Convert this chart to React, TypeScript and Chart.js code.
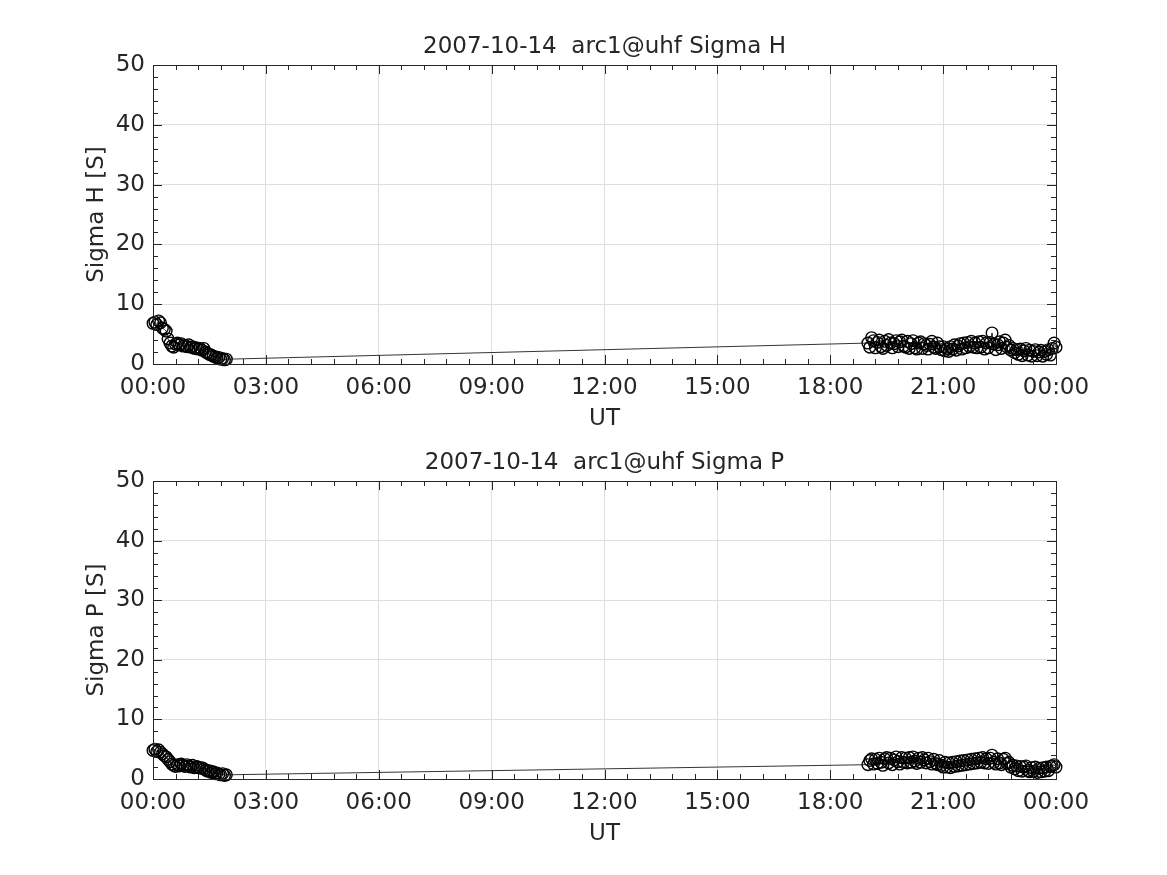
import React, { useEffect, useRef } from "react";
import { Chart, registerables } from "chart.js";

Chart.register(...registerables);

// Sample times in minutes after 00:00 UT
const timesMin = [
  0, 3, 6, 9, 12, 15, 18, 21, 24, 27, 30, 33, 36, 39, 42, 45, 48, 51, 54, 57,
  60, 63, 66, 69, 72, 75, 78, 81, 84, 87, 90, 93, 96, 99, 102, 105, 108, 111, 114, 117,
  1140, 1143, 1146, 1149, 1152, 1155, 1158, 1161, 1164, 1167, 1170, 1173, 1176, 1179, 1182, 1185, 1188, 1191, 1194, 1197,
  1200, 1203, 1206, 1209, 1212, 1215, 1218, 1221, 1224, 1227, 1230, 1233, 1236, 1239, 1242, 1245, 1248, 1251, 1254, 1257,
  1260, 1263, 1266, 1269, 1272, 1275, 1278, 1281, 1284, 1287, 1290, 1293, 1296, 1299, 1302, 1305, 1308, 1311, 1314, 1317,
  1320, 1323, 1326, 1329, 1332, 1335, 1338, 1341, 1344, 1347, 1350, 1353, 1356, 1359, 1362, 1365, 1368, 1371, 1374, 1377,
  1380, 1383, 1386, 1389, 1392, 1395, 1398, 1401, 1404, 1407, 1410, 1413, 1416, 1419, 1422, 1425, 1428, 1431, 1434, 1437,
  1440,
];

const sigmaH = [
  6.8, 7.0, 6.6, 7.2, 6.9, 6.0, 5.8, 5.5, 4.2, 3.5, 3.0, 2.8, 3.3, 3.5, 3.2, 3.4, 3.0, 3.1, 2.9, 3.2,
  2.8, 2.9, 2.6, 2.7, 2.5, 2.6, 2.3, 2.6, 2.0, 1.8, 1.6, 1.5, 1.3, 1.2, 1.0, 1.1, 0.8, 0.9, 0.7, 0.8,
  3.5, 2.8, 4.4, 3.9, 2.7, 3.6, 4.0, 2.9, 2.6, 3.8, 3.1, 4.1, 3.5, 2.7, 3.4, 3.9, 2.9, 3.7, 4.0, 3.0,
  2.8, 3.8, 2.6, 3.4, 3.9, 2.7, 2.5, 3.5, 3.7, 2.6, 3.4, 3.1, 2.5, 3.3, 3.8, 2.8, 2.6, 3.5, 2.9, 2.4,
  2.9, 2.2, 2.6, 2.1, 2.9, 2.5, 3.2, 2.3, 3.0, 3.4, 2.5, 3.5, 2.7, 3.6, 2.9, 3.8, 2.8, 3.5, 2.7, 3.7,
  2.8, 3.8, 2.5, 3.5, 2.7, 3.6, 5.2, 3.3, 2.4, 3.2, 3.7, 2.6, 3.5, 4.0, 2.8, 3.1, 2.3, 2.6, 1.9, 2.4,
  1.6, 2.5, 1.4, 2.2, 2.6, 1.5, 2.3, 1.3, 2.1, 2.4, 1.4, 2.0, 2.3, 1.3, 2.1, 1.6, 2.4, 1.5, 2.6, 3.5,
  2.8,
];

const sigmaP = [
  4.8, 5.0, 4.6, 4.9, 4.5, 4.2, 3.9, 3.7, 3.3, 2.9, 2.5, 2.3, 2.1, 2.4, 2.2, 2.5, 2.3, 2.1, 2.4, 2.2,
  2.0, 2.3, 1.9, 2.1, 2.0, 1.8, 1.9, 1.7, 1.5, 1.3, 1.4, 1.1, 1.2, 0.9, 1.0, 0.8, 0.7, 0.9, 0.6, 0.7,
  2.4, 3.1, 3.4, 2.5, 3.3, 2.6, 3.5, 2.8, 2.3, 3.4, 3.6, 2.7, 3.5, 2.4, 3.2, 3.7, 2.9, 2.5, 3.6, 2.8,
  3.5, 2.7, 3.6, 2.8, 3.7, 3.0, 2.6, 3.5, 2.8, 3.6, 3.2, 2.7, 3.5, 2.9, 2.5, 3.3, 2.6, 2.4, 3.1, 2.3,
  2.0, 2.8, 2.0, 2.7, 1.9, 2.8, 2.1, 2.9, 2.2, 3.0, 2.3, 3.1, 2.4, 3.2, 2.5, 3.3, 2.6, 3.4, 2.7, 3.5,
  2.8, 3.6, 2.7, 3.4, 2.6, 3.5, 4.0, 2.8, 2.5, 3.4, 2.7, 2.4, 3.3, 3.5, 2.6, 2.8, 2.0, 2.3, 1.7, 2.2,
  1.4, 2.1, 1.3, 2.0, 2.2, 1.4, 1.2, 1.9, 1.3, 2.0, 1.1, 1.8, 1.2, 1.9, 1.3, 2.0, 1.4, 2.1, 2.2, 2.4,
  2.0,
];

const xTickHours = [0, 3, 6, 9, 12, 15, 18, 21, 24];
const xTickLabels = ["00:00", "03:00", "06:00", "09:00", "12:00", "15:00", "18:00", "21:00", "00:00"];
const yTicks = [0, 10, 20, 30, 40, 50];

const FONT = "'DejaVu Sans', sans-serif";
const FS = 23;
const TXT = "#262626";

type PanelProps = {
  top: number;
  height: number;
  padTop: number;
  padBottom: number;
  title: string;
  yLabel: string;
  values: number[];
};

const frame = {
  id: "matlabFrame",
  afterDraw(chart: any, _a: any, opts: any) {
    const { ctx, chartArea, scales } = chart;
    const { left, right, top, bottom } = chartArea;
    const xs = scales.x;
    const ys = scales.y;
    ctx.save();
    ctx.strokeStyle = TXT;
    ctx.lineWidth = 1;
    ctx.strokeRect(Math.round(left) + 0.5, Math.round(top) + 0.5, Math.round(right - left), Math.round(bottom - top));
    const majL = 9;
    const minL = 5;
    ctx.beginPath();
    for (let k = 0; k <= 40; k++) {
      const h = k * 0.6;
      const isMajor = k % 5 === 0;
      const px = Math.round(xs.getPixelForValue(h)) + 0.5;
      const L = isMajor ? majL : minL;
      ctx.moveTo(px, bottom);
      ctx.lineTo(px, bottom - L);
      ctx.moveTo(px, top);
      ctx.lineTo(px, top + L);
    }
    for (let k = 0; k <= 25; k++) {
      const v = k * 2;
      const isMajor = k % 5 === 0;
      const py = Math.round(ys.getPixelForValue(v)) + 0.5;
      const L = isMajor ? majL : minL;
      ctx.moveTo(left, py);
      ctx.lineTo(left + L, py);
      ctx.moveTo(right, py);
      ctx.lineTo(right - L, py);
    }
    ctx.stroke();
    ctx.fillStyle = TXT;
    ctx.font = `${FS}px ${FONT}`;
    ctx.textAlign = "center";
    ctx.textBaseline = "middle";
    ctx.fillText(opts.title, (left + right) / 2, top - 18);
    ctx.fillText("UT", (left + right) / 2, bottom + 55);
    ctx.save();
    ctx.translate(left - 56, (top + bottom) / 2);
    ctx.rotate(-Math.PI / 2);
    ctx.fillText(opts.yLabel, 0, 0);
    ctx.restore();
    ctx.restore();
  },
};

function Panel({ top, height, padTop, padBottom, title, yLabel, values }: PanelProps) {
  const ref = useRef<HTMLCanvasElement | null>(null);
  useEffect(() => {
    if (!ref.current) return;
    const pts = timesMin.map((t, i) => ({ x: t / 60, y: values[i] }));
    const chart = new Chart(ref.current, {
      type: "scatter",
      data: {
        datasets: [
          {
            data: pts,
            showLine: true,
            borderColor: "#000000",
            borderWidth: 0.8,
            pointRadius: 5.8,
            pointBorderWidth: 1.4,
            pointBorderColor: "#000000",
            pointBackgroundColor: "rgba(0,0,0,0)",
            clip: false as any,
          },
        ],
      },
      options: {
        animation: false,
        responsive: false,
        maintainAspectRatio: false,
        layout: { padding: { top: padTop, left: 0, right: 111, bottom: padBottom } },
        plugins: {
          legend: { display: false },
          tooltip: { enabled: false },
          title: { display: false },
          matlabFrame: { title, yLabel },
        } as any,
        scales: {
          x: {
            type: "linear",
            min: 0,
            max: 24,
            afterFit: (s: any) => {
              s.height = 60;
            },
            afterBuildTicks: (s: any) => {
              s.ticks = xTickHours.map((v) => ({ value: v }));
            },
            ticks: {
              color: TXT,
              font: { family: FONT, size: FS },
              padding: 10,
              maxRotation: 0,
              autoSkip: false,
              callback: (v: any) => xTickLabels[xTickHours.indexOf(Number(v))] ?? "",
            },
            grid: { color: "#dedede", lineWidth: 1, drawTicks: false },
            border: { display: true, color: TXT },
          },
          y: {
            type: "linear",
            min: 0,
            max: 50,
            afterFit: (s: any) => {
              s.width = 153;
            },
            afterBuildTicks: (s: any) => {
              s.ticks = yTicks.map((v) => ({ value: v }));
            },
            ticks: {
              color: TXT,
              font: { family: FONT, size: FS },
              padding: 8,
              autoSkip: false,
            },
            grid: { color: "#dedede", lineWidth: 1, drawTicks: false },
            border: { display: true, color: TXT },
          },
        },
      },
      plugins: [frame],
    });
    return () => chart.destroy();
  }, []);
  return (
    <div style={{ position: "absolute", left: 0, top, width: 1167, height }}>
      <canvas ref={ref} width={1167} height={height} style={{ display: "block", width: 1167, height }} />
    </div>
  );
}

export default function App() {
  return (
    <div style={{ position: "fixed", left: 0, top: 0, width: 1167, height: 875, background: "#ffffff" }}>
      <Panel top={0} height={438} padTop={65} padBottom={14} title="2007-10-14  arc1@uhf Sigma H" yLabel="Sigma H [S]" values={sigmaH} />
      <Panel top={438} height={437} padTop={43} padBottom={36} title="2007-10-14  arc1@uhf Sigma P" yLabel="Sigma P [S]" values={sigmaP} />
    </div>
  );
}
